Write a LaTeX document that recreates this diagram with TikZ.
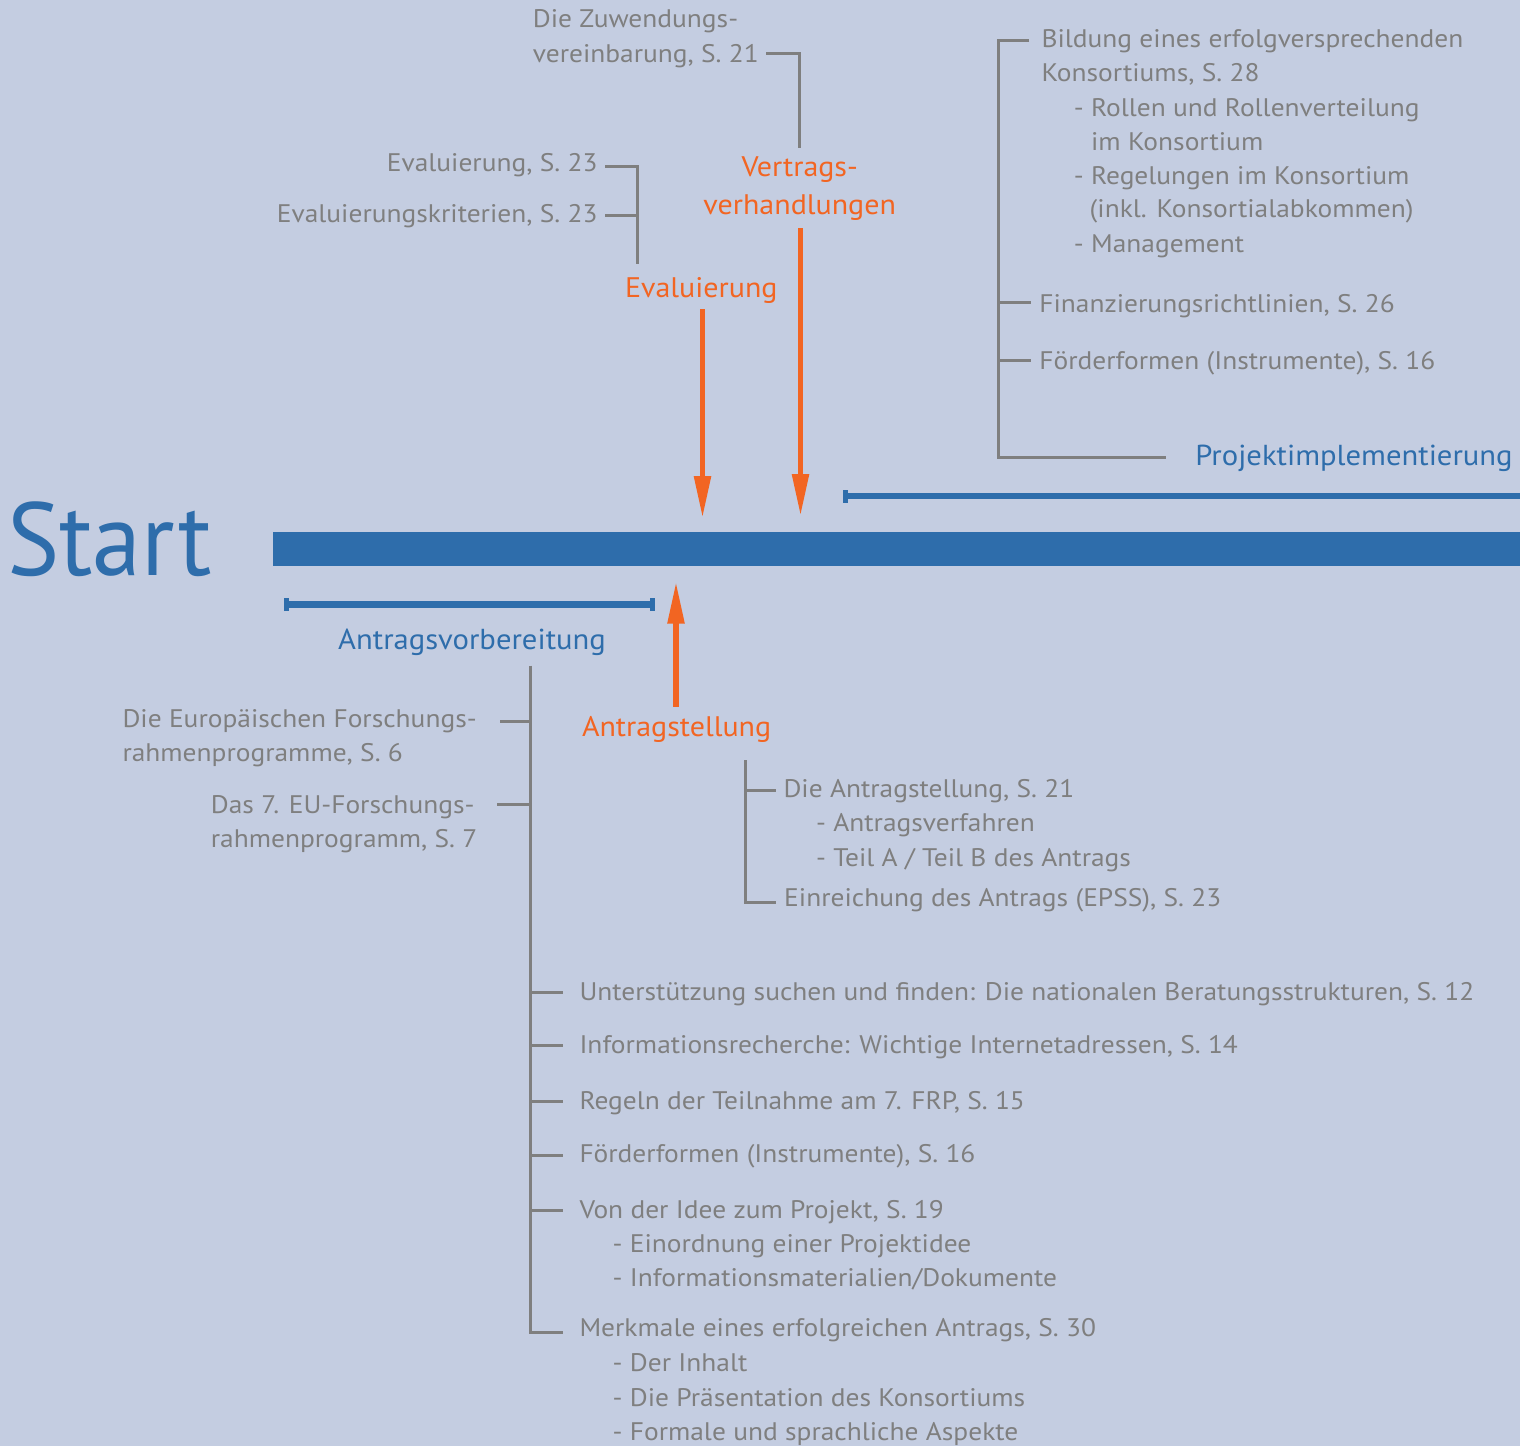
\documentclass[tikz,border=0pt]{standalone}
\usepackage{fontspec}
\setmainfont[FakeStretch=1.08]{PT Sans}
\newfontfamily\startfont[FakeStretch=0.95]{PT Sans}
\newfontfamily\labfont[FakeStretch=1.06]{PT Sans}
\usetikzlibrary{arrows.meta}
\definecolor{bg}{HTML}{C4CDE1}
\definecolor{blu}{HTML}{2E6DAB}
\definecolor{ora}{HTML}{F26522}
\definecolor{gry}{HTML}{7F7F7F}
\tikzset{
  gt/.style={font=\fontsize{25.5}{30}\selectfont, text=gry, inner sep=0pt},
  gw/.style={gt, anchor=base west},
  ge/.style={gt, anchor=base east},
  ot/.style={font=\labfont\fontsize{28.4}{34}\selectfont, text=ora, inner sep=0pt, anchor=base},
  bt/.style={font=\labfont\fontsize{29}{34}\selectfont, text=blu, inner sep=0pt, anchor=base},
  gl/.style={draw=gry, line width=3bp},
  oarr/.style={draw=ora, fill=ora, line width=5.5bp, -{Triangle[width=16bp,length=42bp]}},
  bbar/.style={draw=blu, line width=6.5bp},
}
\begin{document}
\begin{tikzpicture}[x=1bp,y=-1bp]
\fill[bg] (0,0) rectangle (1520,1446);
\useasboundingbox (0,0) rectangle (1520,1446);

% main timeline
\node[font=\startfont\fontsize{104}{110}\selectfont, text=blu, inner sep=0pt, anchor=base west] (start) at (7,575) {Start};
\coordinate (barL) at (273,532);
\coordinate (barR) at (1520,565.5);
\fill[blu] (barL) rectangle (barR);

% phase bars
\coordinate (avL) at (284,604.7);
\coordinate (avR) at (655,604.7);
\draw[bbar, {Bar[width=13bp,line width=5bp]}-{Bar[width=13bp,line width=5bp]}] (avL) -- (avR);
\coordinate (piL) at (843,496);
\coordinate (piR) at (1520,496);
\draw[bbar, {Bar[width=13bp,line width=5bp]}-] (piL) -- (piR);
\node[bt] (av) at (472,649.3) {Antragsvorbereitung};
\node[bt] (pi) at (1354,465.7) {Projektimplementierung};

% orange milestones
\node[ot] (ev) at (701.3,297.7) {Evaluierung};
\node[ot] (vt1) at (799.7,176.7) {Vertrags-};
\node[ot] (vt2) at (799.7,214.3) {verhandlungen};
\node[ot] (as) at (676.6,736) {Antragstellung};
\coordinate (evS) at (702.5,309);
\coordinate (evT) at (702.5,518);
\coordinate (vtS) at (800.5,228);
\coordinate (vtT) at (800.5,516);
\coordinate (asS) at (676,706.7);
\coordinate (asT) at (676,581.7);
\draw[oarr] (evS) -- (evT);
\draw[oarr] (vtS) -- (vtT);
\draw[oarr] (asS) -- (asT);

% Evaluierung bracket
\node[ge] (e1) at (597.7,171.7) {Evaluierung, S. 23};
\node[ge] (e2) at (597.7,222.7) {Evaluierungskriterien, S. 23};
\coordinate (eb1) at (637.5,166.7);
\coordinate (eb2) at (637.5,215);
\coordinate (eb3) at (637.5,263.5);
\draw[gl] (605,166.7) -- (eb1) -- (eb3);
\draw[gl] (605,215) -- (eb2);

% Vertragsverhandlungen bracket
\node[gw] (z1) at (532.7,27.7) {Die Zuwendungs-};
\node[gw] (z2) at (532.7,62.7) {vereinbarung, S. 21};
\coordinate (zb1) at (799,53.5);
\coordinate (zb2) at (799,148.5);
\draw[gl] (766,53.5) -- (zb1) -- (zb2);

% Projektimplementierung bracket
\node[gw] (p1) at (1041.3,47.3) {Bildung eines erfolgversprechenden};
\node[gw] (p1b) at (1041.3,81.7) {Konsortiums, S. 28};
\node[gw] (p1c) at (1073.7,116.7) {- Rollen und Rollenverteilung};
\node[gw] (p1d) at (1090.9,150.3) {im Konsortium};
\node[gw] (p1e) at (1073.7,184.3) {- Regelungen im Konsortium};
\node[gw] (p1f) at (1089.5,218) {(inkl. Konsortialabkommen)};
\node[gw] (p1g) at (1073.7,252.3) {- Management};
\node[gw] (p2) at (1039.2,312.3) {Finanzierungsrichtlinien, S. 26};
\node[gw] (p3) at (1039.2,369) {Förderformen (Instrumente), S. 16};
\coordinate (pb0) at (998,40.5);
\coordinate (pb1) at (998,302);
\coordinate (pb2) at (998,360);
\coordinate (pb3) at (998,457);
\draw[gl] (1029,40.5) -- (pb0) -- (pb3) -- (1165.5,457);
\draw[gl] (pb1) -- (1031,302);
\draw[gl] (pb2) -- (1031,360);

% Antragsvorbereitung tree
\coordinate (vb0) at (530,665.5);
\coordinate (vb9) at (530,1332);
\draw[gl] (vb0) -- (vb9) -- (562.5,1332);
\node[gw] (l1) at (122.3,727.3) {Die Europäischen Forschungs-};
\node[gw] (l1b) at (122.3,761.3) {rahmenprogramme, S. 6};
\node[gw] (l2) at (210.7,813.3) {Das 7. EU-Forschungs-};
\node[gw] (l2b) at (210.7,847.3) {rahmenprogramm, S. 7};
\draw[gl] (500,721) -- (530,721);
\draw[gl] (497,804.3) -- (530,804.3);
\node[gw] (r1) at (579.3,1000.7) {Unterstützung suchen und finden: Die nationalen Beratungsstrukturen, S. 12};
\node[gw] (r2) at (579.3,1053.3) {Informationsrecherche: Wichtige Internetadressen, S. 14};
\node[gw] (r3) at (579.3,1109.3) {Regeln der Teilnahme am 7. FRP, S. 15};
\node[gw] (r4) at (579.3,1162.7) {Förderformen (Instrumente), S. 16};
\node[gw] (r5) at (579.3,1218.3) {Von der Idee zum Projekt, S. 19};
\node[gw] (r5a) at (612.5,1252.7) {- Einordnung einer Projektidee};
\node[gw] (r5b) at (612.5,1286.7) {- Informationsmaterialien/Dokumente};
\node[gw] (r6) at (579.3,1336.7) {Merkmale eines erfolgreichen Antrags, S. 30};
\node[gw] (r6a) at (612.5,1371.7) {- Der Inhalt};
\node[gw] (r6b) at (612.5,1406) {- Die Präsentation des Konsortiums};
\node[gw] (r6c) at (612.5,1440) {- Formale und sprachliche Aspekte};
\foreach \yy in {992.3,1045.7,1101.7,1155.3,1210} \draw[gl] (530,\yy) -- (562.5,\yy);

% Antragstellung bracket
\coordinate (ab0) at (745,760);
\coordinate (ab1) at (745,790.7);
\coordinate (ab2) at (745,902.5);
\draw[gl] (ab0) -- (ab2) -- (776,902.5);
\draw[gl] (ab1) -- (776,790.7);
\node[gw] (a1) at (783.3,797.7) {Die Antragstellung, S. 21};
\node[gw] (a1a) at (816,831.7) {- Antragsverfahren};
\node[gw] (a1b) at (816,866) {- Teil A / Teil B des Antrags};
\node[gw] (a2) at (784,906.7) {Einreichung des Antrags (EPSS), S. 23};
\end{tikzpicture}
\end{document}
